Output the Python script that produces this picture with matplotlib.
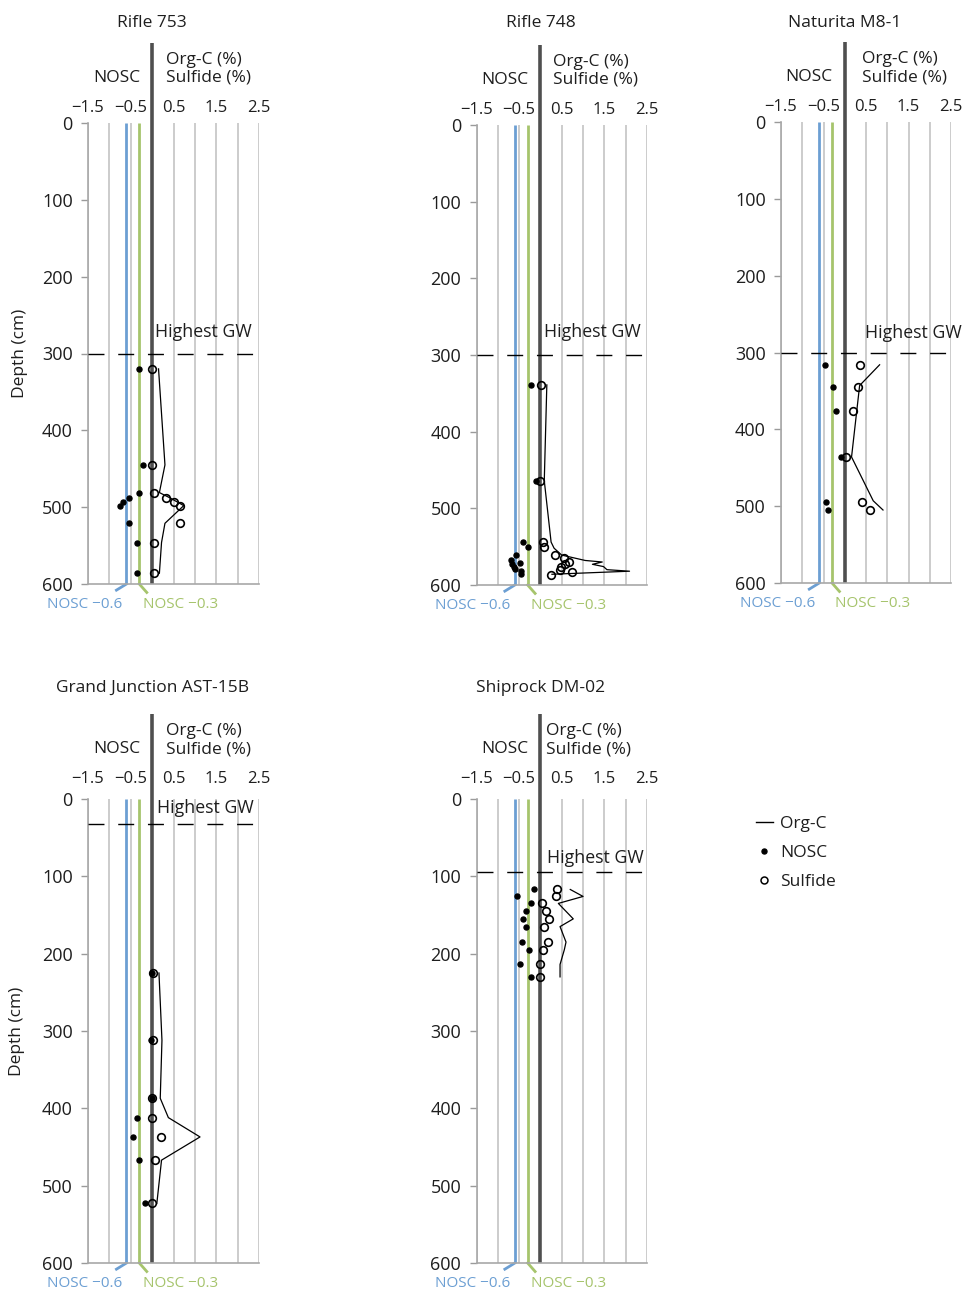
import matplotlib
matplotlib.use("Agg")
import matplotlib.pyplot as plt
from matplotlib.lines import Line2D

plt.rcParams['font.family'] = ['Open Sans', 'DejaVu Sans']

# ---- data (depth in cm, values on the shared x scale) ----
titles = ['Rifle 753', 'Rifle 748', 'Naturita M8-1', 'Grand Junction AST-15B', 'Shiprock DM-02']
gw_depth = [300, 300, 300, 32, 94]

r753_depth = [320, 445, 481, 488, 493, 498, 521, 546, 586]
r753_nosc = [-0.30, -0.22, -0.30, -0.54, -0.69, -0.75, -0.54, -0.36, -0.35]
r753_sulf = [0.0, 0.0, 0.05, 0.33, 0.51, 0.65, 0.65, 0.05, 0.05]
r753_orgc = [0.15, 0.30, 0.17, 0.42, 0.58, 0.74, 0.30, 0.22, 0.17]

r748_nosc_depth = [339, 464, 544, 551, 561, 567, 571, 573, 576, 579, 582, 585]
r748_nosc = [-0.23, -0.10, -0.41, -0.30, -0.58, -0.70, -0.49, -0.67, -0.63, -0.60, -0.45, -0.46]
r748_sulf_depth = [339, 464, 544, 551, 561, 565, 570, 573, 577, 580, 583, 587]
r748_sulf = [0.01, 0.0, 0.05, 0.09, 0.33, 0.56, 0.68, 0.58, 0.49, 0.46, 0.75, 0.25]
r748_orgc_depth = [339, 464, 544, 552, 561, 568, 570, 573, 576, 580, 582, 586]
r748_orgc = [0.15, 0.09, 0.25, 0.32, 0.50, 1.05, 1.45, 1.22, 1.48, 1.56, 2.09, 0.27]

nat_depth = [316, 345, 376, 436, 495, 505]
nat_nosc = [-0.46, -0.28, -0.20, -0.10, -0.45, -0.40]
nat_sulf = [0.36, 0.32, 0.20, 0.04, 0.41, 0.60]
nat_orgc_depth = [316, 343, 436, 493, 505]
nat_orgc = [0.82, 0.35, 0.16, 0.67, 0.90]

gj_depth = [225, 312, 387, 412, 437, 467, 523]
gj_nosc = [0.0, -0.02, 0.0, -0.36, -0.44, -0.30, -0.16]
gj_sulf = [0.02, 0.03, 0.0, 0.0, 0.20, 0.07, 0.0]
gj_orgc = [0.16, 0.23, 0.19, 0.38, 1.12, 0.22, 0.11]

sr_depth = [117, 125, 135, 145, 155, 165, 185, 195, 214, 230]
sr_nosc = [-0.15, -0.55, -0.23, -0.33, -0.42, -0.35, -0.43, -0.27, -0.47, -0.23]
sr_sulf = [0.38, 0.37, 0.03, 0.12, 0.20, 0.09, 0.17, 0.06, 0.0, 0.0]
sr_orgc_depth = [117, 126, 135, 155, 165, 185, 195, 214, 230]
sr_orgc = [0.70, 1.00, 0.42, 0.77, 0.46, 0.60, 0.56, 0.46, 0.46]

panels = [
    (r753_depth, r753_nosc, r753_depth, r753_sulf, r753_depth, r753_orgc),
    (r748_nosc_depth, r748_nosc, r748_sulf_depth, r748_sulf, r748_orgc_depth, r748_orgc),
    (nat_depth, nat_nosc, nat_depth, nat_sulf, nat_orgc_depth, nat_orgc),
    (gj_depth, gj_nosc, gj_depth, gj_sulf, gj_depth, gj_orgc),
    (sr_depth, sr_nosc, sr_depth, sr_sulf, sr_orgc_depth, sr_orgc),
]

# ---- layout (pixels) ----
W, H = 963, 1291
boxes = [(88, 123, 259, 584), (476.5, 125, 647, 585), (781, 122, 951, 583),
         (88, 799, 259, 1263), (476.5, 799, 647, 1263)]
lift = [0, 0, 0, 5, 5]
title_up = [100, 102, 99, 111, 111]
gw_label = [(0.07, 272), (0.09, 270), (0.47, 274), (0.12, 11), (0.16, 76)]
head_x = [0.33, 0.30, 0.40, 0.33, 0.14]

BLUE = '#6c9fd3'
GREEN = '#a6c46c'
DARK = '#4f4f4f'
GRID = '#c4c4c4'
TXT = '#1e1e1e'
pt = 0.72  # points per pixel

fig = plt.figure(figsize=(W / 100, H / 100), dpi=100)

for i, (l, t, r, b) in enumerate(boxes):
    ax = fig.add_axes([l / W, 1 - b / H, (r - l) / W, (b - t) / H])
    nd, nv, sd, sv, od, ov = panels[i]
    ax.set_xlim(-1.5, 2.5)
    ax.set_ylim(600, 0)

    ax.xaxis.tick_top()
    ax.set_xticks([-1.5, -0.5, 0.5, 1.5, 2.5])
    ax.set_xticks([-1.0, 0.0, 1.0, 2.0], minor=True)
    ax.tick_params(axis='x', which='both', length=0, pad=5 + lift[i] * pt,
                   labelsize=12, labelcolor=TXT)
    ax.set_yticks(range(0, 601, 100))
    ax.tick_params(axis='y', length=5, color='#9a9a9a', width=1,
                   labelsize=13, labelcolor=TXT, pad=6)
    ax.grid(True, axis='x', which='both', color=GRID, lw=1.2, zorder=0)
    ax.set_axisbelow(True)
    for s in ['top', 'right']:
        ax.spines[s].set_visible(False)
    for s in ['left', 'bottom']:
        ax.spines[s].set_color('#a8a8a8')
        ax.spines[s].set_linewidth(1.2)

    # reference lines
    ax.plot([-0.6, -0.6], [0, 600], color=BLUE, lw=2.0, zorder=2, solid_capstyle='butt')
    ax.plot([-0.3, -0.3], [0, 600], color=GREEN, lw=2.0, zorder=2, solid_capstyle='butt')
    ax.plot([-0.6, -0.835], [600, 608], color=BLUE, lw=2.0, clip_on=False, zorder=2)
    ax.plot([-0.3, -0.125], [600, 611], color=GREEN, lw=2.0, clip_on=False, zorder=2)
    ax.plot([0, 0], [0, 1 + (80 + lift[i]) / (b - t)], color=DARK, lw=2.6,
            transform=ax.get_xaxis_transform(), clip_on=False, zorder=2,
            solid_capstyle='butt')
    ax.text(-1.58, 627, 'NOSC \u22120.6', color=BLUE, fontsize=11,
            ha='center', va='center')
    ax.text(0.66, 627, 'NOSC \u22120.3', color=GREEN, fontsize=11,
            ha='center', va='center')

    # groundwater
    ax.plot([-1.5, 2.5], [gw_depth[i], gw_depth[i]], color='black', lw=1.0,
            linestyle=(0, (11.5, 9.9)), zorder=3)
    ax.text(gw_label[i][0], gw_label[i][1], 'Highest GW', fontsize=12.8,
            color=TXT, ha='left', va='center', zorder=4)

    # data
    ax.plot(ov, od, color='black', lw=0.9, zorder=4, clip_on=False)
    ax.plot(nv, nd, 'o', color='black', ms=3.6, zorder=5, clip_on=False)
    ax.plot(sv, sd, 'o', mfc='none', mec='black', mew=1.2, ms=5.5, zorder=5,
            clip_on=False)

    # headers
    kw = dict(xycoords=('data', 'axes fraction'), textcoords='offset points',
              fontsize=12.5, color=TXT, va='center')
    ax.annotate('Org-C (%)', xy=(head_x[i], 1), xytext=(0, (63 + lift[i]) * pt),
                ha='left', **kw)
    ax.annotate('Sulfide (%)', xy=(head_x[i], 1), xytext=(0, (45 + lift[i]) * pt),
                ha='left', **kw)
    ax.annotate('NOSC', xy=(-0.28, 1), xytext=(0, (45 + lift[i]) * pt),
                ha='right', **kw)
    ax.annotate(titles[i], xy=(0, 1), xytext=(0, title_up[i] * pt),
                ha='center', **kw)

fig.text(20 / W, 1 - 353 / H, 'Depth (cm)', rotation=90, fontsize=12.5,
         color=TXT, ha='center', va='center')
fig.text(17 / W, 1 - 1031 / H, 'Depth (cm)', rotation=90, fontsize=12.5,
         color=TXT, ha='center', va='center')

handles = [
    Line2D([], [], color='black', lw=1.0),
    Line2D([], [], marker='o', ls='none', color='black', ms=3.6),
    Line2D([], [], marker='o', ls='none', mfc='none', mec='black', mew=1.1, ms=5),
]
fig.legend(handles, ['Org-C', 'NOSC', 'Sulfide'], loc='upper left',
           bbox_to_anchor=(740 / W, 1 - 800 / H), frameon=False, fontsize=12.5,
           handlelength=1.0, handletextpad=0.4, labelspacing=0.75,
           labelcolor=TXT)

fig.savefig('out.png', dpi=100)
